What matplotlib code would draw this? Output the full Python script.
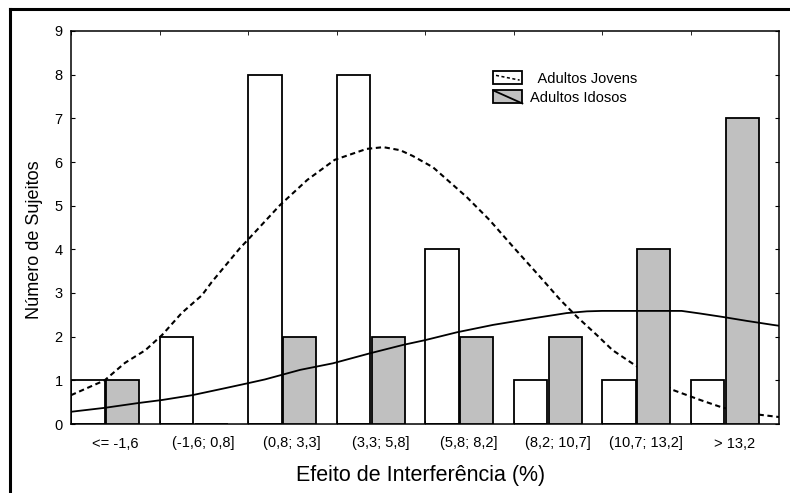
#%% Librerias
import numpy as np
import matplotlib.pyplot as plt
from matplotlib.patches import Rectangle
from matplotlib.lines import Line2D
from matplotlib.legend_handler import HandlerBase

plt.rcParams['font.family'] = ['Liberation Sans', 'DejaVu Sans']
plt.rcParams['lines.scale_dashes'] = False

#%% Datos
categorias = ['<= -1,6', '(-1,6; 0,8]', '(0,8; 3,3]', '(3,3; 5,8]',
              '(5,8; 8,2]', '(8,2; 10,7]', '(10,7; 13,2]', '> 13,2']
jovens = [1, 2, 8, 8, 4, 1, 1, 1]
idosos = [1, 0, 2, 2, 2, 2, 4, 7]

# curvas ajustadas (x en unidades de categoria)
x_jov = [0.0, 0.38, 0.61, 0.84, 1.03, 1.25, 1.48, 1.59, 1.91, 1.99, 2.10, 2.36,
         2.67, 2.98, 3.34, 3.53, 3.72, 3.86, 4.09, 4.47, 4.73, 4.99, 5.30, 5.53,
         5.72, 5.94, 6.12, 6.40, 6.80, 7.11, 7.37, 7.79, 8.0]
y_jov = [0.66, 1.0, 1.40, 1.69, 2.04, 2.54, 2.95, 3.25, 4.03, 4.2, 4.44, 5.01,
         5.59, 6.05, 6.30, 6.34, 6.27, 6.14, 5.88, 5.2, 4.67, 4.07, 3.37, 2.84,
         2.45, 2.04, 1.69, 1.31, 0.78, 0.55, 0.37, 0.21, 0.16]
x_ido = [0.0, 0.38, 0.76, 1.03, 1.37, 1.74, 1.99, 2.19, 2.59, 2.96, 3.38, 3.75,
         4.0, 4.36, 4.77, 5.22, 5.60, 5.83, 6.0, 6.9, 7.11, 7.37, 7.64, 7.93, 8.0]
y_ido = [0.28, 0.37, 0.48, 0.55, 0.66, 0.82, 0.93, 1.02, 1.24, 1.39, 1.62, 1.81,
         1.92, 2.1, 2.27, 2.42, 2.54, 2.58, 2.59, 2.59, 2.53, 2.45, 2.36, 2.27, 2.25]

gris = '#c0c0c0'

#%% Handler para la leyenda (caja con linea adentro)
class CajaLinea(HandlerBase):
    def __init__(self, cara, ls):
        super().__init__()
        self.cara = cara
        self.ls = ls

    def create_artists(self, legend, orig_handle, xdescent, ydescent,
                       width, height, fontsize, trans):
        x0, y0 = -xdescent, -ydescent
        r = Rectangle((x0, y0), width, height, fc=self.cara, ec='k',
                      lw=1.3, transform=trans)
        if self.ls == '-':
            l = Line2D([x0, x0 + width], [y0 + height, y0], color='k',
                       lw=1.3, transform=trans)
        else:
            l = Line2D([x0 + 2, x0 + width - 2], [y0 + height - 3, y0 + 3],
                       color='k', lw=1.1, dashes=(2.2, 1.8), transform=trans)
        return [r, l]

#%% Figura
fig = plt.figure(figsize=(7.9, 4.93), dpi=100)
ax = fig.add_axes([71/790, 1-424/493, 708/790, 393/493])

pos = np.arange(len(categorias))
ax.bar(pos, jovens, width=0.38, align='edge', color='white',
       edgecolor='k', lw=1.3, zorder=1)
ax.plot(x_jov, y_jov, color='k', lw=1.5, dashes=(3.8, 2.6), zorder=2)
ax.bar(pos + 0.40, idosos, width=0.37, align='edge', color=gris,
       edgecolor='k', lw=1.3, zorder=3)
ax.plot(x_ido, y_ido, color='k', lw=1.3, zorder=4)

ax.set_xlim(0, 8)
ax.set_ylim(0, 9)
ax.set_yticks(range(0, 10))
ax.set_xticks(pos + 0.5)
ax.set_xticklabels(categorias)
ax.set_xticks(pos, minor=True)
ax.tick_params(axis='x', which='major', length=0, pad=9, labelsize=10.5)
ax.tick_params(axis='x', which='minor', direction='in', length=3, top=True, bottom=True)
ax.tick_params(axis='y', direction='in', length=3, right=True, left=True,
               pad=6, labelsize=10.5)
for s in ax.spines.values():
    s.set_linewidth(1.1)

ax.set_xlabel('Efeito de Interferência (%)', fontsize=15.5)
ax.xaxis.set_label_coords(0.494, -0.104)
ax.set_ylabel('Número de Sujeitos', fontsize=13)
ax.yaxis.set_label_coords(-0.040, 0.468)

h1 = Rectangle((0, 0), 1, 1)
h2 = Rectangle((0, 0), 1, 1)
ax.legend([h1, h2], ['  Adultos Jovens', 'Adultos Idosos'],
          handler_map={h1: CajaLinea('white', '--'), h2: CajaLinea(gris, '-')},
          loc='upper left', bbox_to_anchor=(483/790, 1-61/493),
          bbox_transform=fig.transFigure, frameon=False, fontsize=10.5,
          handlelength=2.0, handleheight=1.0, labelspacing=0.32,
          handletextpad=0.55, borderpad=0.2)

# marco exterior (solo arriba e izquierda)
fig.add_artist(Line2D([10.3/790, 1.0], [1-8.7/493, 1-8.7/493],
                      transform=fig.transFigure, color='k', lw=2.2))
fig.add_artist(Line2D([10.3/790, 10.3/790], [0.0, 1-8.7/493],
                      transform=fig.transFigure, color='k', lw=2.2,
                      solid_capstyle='projecting'))

fig.savefig('out.png', dpi=100)
